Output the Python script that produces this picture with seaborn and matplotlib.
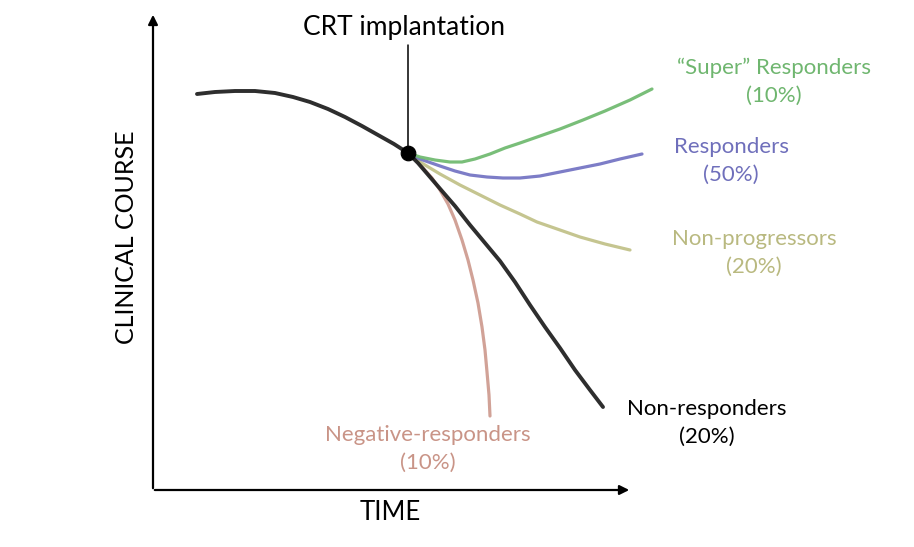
import matplotlib
matplotlib.use("Agg")
import matplotlib.pyplot as plt
import seaborn as sns
import pandas as pd

sns.set_theme(style="white")
plt.rcParams['font.family'] = ['Lato', 'DejaVu Sans']

# Curves (time, clinical course) in image units
pre_x = [197, 215, 235, 255, 275, 293, 310, 328, 345, 362, 378, 394, 408]
pre_y = [94, 92, 91, 91, 93, 97, 102, 109, 117, 126, 135, 144, 153]

non_resp_x = [408, 418, 430, 442, 455, 470, 485, 500, 515, 530, 545, 560, 575, 590, 603]
non_resp_y = [153, 163, 177, 191, 206, 225, 243, 261, 282, 305, 327, 348, 370, 390, 407]

super_x = [408, 420, 435, 450, 462, 475, 490, 505, 520, 540, 560, 583, 605, 630, 652]
super_y = [153, 157, 160, 162, 162, 159, 154, 148, 143, 136, 129, 120, 111, 100, 89]

resp_x = [408, 420, 440, 455, 470, 487, 503, 520, 540, 560, 580, 600, 620, 642]
resp_y = [153, 159, 166, 171, 175, 177, 178, 178, 176, 172, 168, 164, 159, 154]

nonprog_x = [408, 420, 440, 460, 480, 500, 520, 537, 560, 580, 605, 630]
nonprog_y = [153, 162, 174, 185, 195, 205, 214, 222, 230, 237, 244, 250]

neg_x = [408, 416, 423, 432, 440, 448, 455, 462, 468, 473, 478, 482, 485, 487, 489, 490]
neg_y = [153, 160, 168, 178, 190, 204, 220, 240, 260, 280, 303, 327, 350, 372, 395, 416]

implant_x = [408]
implant_y = [153]

labels = ["\u201cSuper\u201d Responders\n(10%)", "Responders\n(50%)", "Non-progressors\n(20%)",
          "Non-responders\n(20%)", "Negative-responders\n(10%)"]
label_x = [774, 731, 754, 707, 428]
label_y = [82, 161, 253, 423, 449]

fig = plt.figure(figsize=(9.14, 5.47), dpi=100)
ax = fig.add_axes([0, 0, 1, 1])
ax.set_xlim(0, 914)
ax.set_ylim(547, 0)
ax.axis("off")

c_black = "#222222"
c_green = "#72bb72"
c_blue = "#7676c4"
c_olive = "#c2c28a"
c_pink = "#cf9d92"

# axes arrows
ax.annotate("", xy=(153, 12), xytext=(153, 491),
            arrowprops=dict(arrowstyle="-|>", color="black", lw=1.6, mutation_scale=14))
ax.annotate("", xy=(632, 490), xytext=(152, 490),
            arrowprops=dict(arrowstyle="-|>", color="black", lw=1.6, mutation_scale=14))

def draw(xs, ys, color, lw):
    df = pd.DataFrame({"x": xs, "y": ys})
    sns.lineplot(data=df, x="x", y="y", sort=False, estimator=None, color=color,
                 lw=lw, ax=ax, solid_capstyle="round", solid_joinstyle="round", alpha=0.95)

draw(neg_x, neg_y, c_pink, 2.3)
draw(nonprog_x, nonprog_y, c_olive, 2.3)
draw(resp_x, resp_y, c_blue, 2.3)
draw(super_x, super_y, c_green, 2.3)
draw(pre_x, pre_y, c_black, 2.8)
draw(non_resp_x, non_resp_y, c_black, 2.8)

# CRT implantation marker
ax.plot([408, 408], [45, 153], color="black", lw=1.1)
sns.scatterplot(x=implant_x, y=implant_y, color="black", s=110, ax=ax, zorder=5, edgecolor="black")
ax.text(404, 28, "CRT implantation", ha="center", va="center", fontsize=19, color="black")

text_colors = ["#6fb66f", "#6f6fbb", "#b9b980", "black", "#c99487"]
for lab, lx, ly, tc in zip(labels, label_x, label_y, text_colors):
    ax.text(lx, ly, lab, ha="center", va="center", fontsize=16, color=tc, linespacing=1.5)

ax.text(390, 512, "TIME", ha="center", va="center", fontsize=18.5, color="black")
ax.text(127, 237, "CLINICAL COURSE", ha="center", va="center", fontsize=18, color="black",
        rotation=90)

fig.savefig("out.png", dpi=100)
